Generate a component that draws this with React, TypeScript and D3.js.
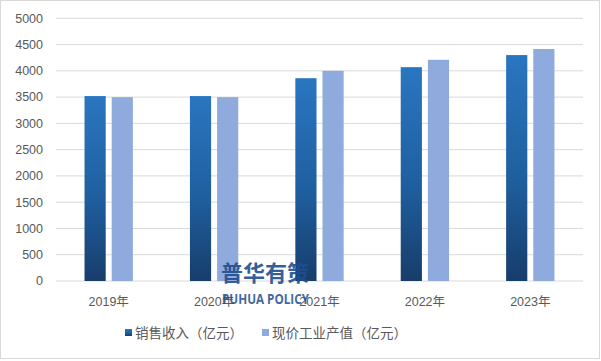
import React from "react";
import * as d3 from "d3";

const categories = ["2019年", "2020年", "2021年", "2022年", "2023年"];
const salesRevenue = [3520, 3520, 3860, 4070, 4300];
const outputValue = [3500, 3500, 4000, 4210, 4415];
const seriesNames = ["销售收入（亿元）", "现价工业产值（亿元）"];
const yTicks = [0, 500, 1000, 1500, 2000, 2500, 3000, 3500, 4000, 4500, 5000];

const W = 601;
const H = 361;
const FONT = "'Liberation Sans', 'Noto Sans CJK SC', sans-serif";
const TEXT = "#595959";

export default function App() {
  const x = d3.scaleBand<string>().domain(categories).range([56, 583]).paddingInner(0).paddingOuter(0);
  const y = d3.scaleLinear().domain([0, 5000]).range([281, 18.3]);
  const inner = d3.scaleBand<number>().domain([0, 1]).range([0, x.bandwidth()]).paddingInner(0.22).paddingOuter(1.05);

  const series = [salesRevenue, outputValue];

  return (
    <svg width={W} height={H} style={{ position: "absolute", left: 0, top: 0, background: "#fff" }}>
      <defs>
        <linearGradient id="darkGrad" x1="0" y1="0" x2="0" y2="1">
          <stop offset="0%" stopColor="#2a76c1" />
          <stop offset="55%" stopColor="#1f5f9f" />
          <stop offset="100%" stopColor="#173d6b" />
        </linearGradient>
      </defs>
      <rect x={0.5} y={0.5} width={W - 2} height={H - 3} fill="#fff" stroke="#d9d9d9" />
      {yTicks.map((t) => (
        <g key={t}>
          <line x1={56} x2={583} y1={y(t)} y2={y(t)} stroke="#d9d9d9" strokeWidth={1} />
          <text x={43} y={y(t)} dy="0.35em" textAnchor="end" fontSize={12.5} fill={TEXT} fontFamily={FONT}>
            {t}
          </text>
        </g>
      ))}
      {categories.map((c, i) => (
        <g key={c}>
          {series.map((s, k) => (
            <rect
              key={k}
              x={(x(c) as number) + (inner(k) as number)}
              y={y(s[i])}
              width={inner.bandwidth()}
              height={y(0) - y(s[i])}
              fill={k === 0 ? "url(#darkGrad)" : "#8faadc"}
            />
          ))}
          <text
            x={(x(c) as number) + x.bandwidth() / 2}
            y={306}
            textAnchor="middle"
            fontSize={12.5}
            fill={TEXT}
            fontFamily={FONT}
          >
            {c}
          </text>
        </g>
      ))}
      {/* watermark */}
      <text x={265} y={281} textAnchor="middle" fontSize={22} fontWeight="bold" fill="#1f4f8f" fontFamily="'Noto Sans CJK SC', sans-serif" opacity={0.9}>
        普华有策
      </text>
      <text x={222} y={303.5} fontSize={14.5} fontWeight="bold" fill="#1f4f8f" fontFamily="'Open Sans', sans-serif" opacity={0.85} textLength={87} lengthAdjust="spacingAndGlyphs">
        PUHUA POLICY
      </text>
      {/* legend */}
      <g fontFamily={FONT} fontSize={13.5} fill={TEXT}>
        <rect x={125} y={329} width={7} height={7} fill="url(#darkGrad)" />
        <text x={135} y={338}>{seriesNames[0]}</text>
        <rect x={262} y={329} width={7} height={7} fill="#8faadc" />
        <text x={272} y={338}>{seriesNames[1]}</text>
      </g>
    </svg>
  );
}
